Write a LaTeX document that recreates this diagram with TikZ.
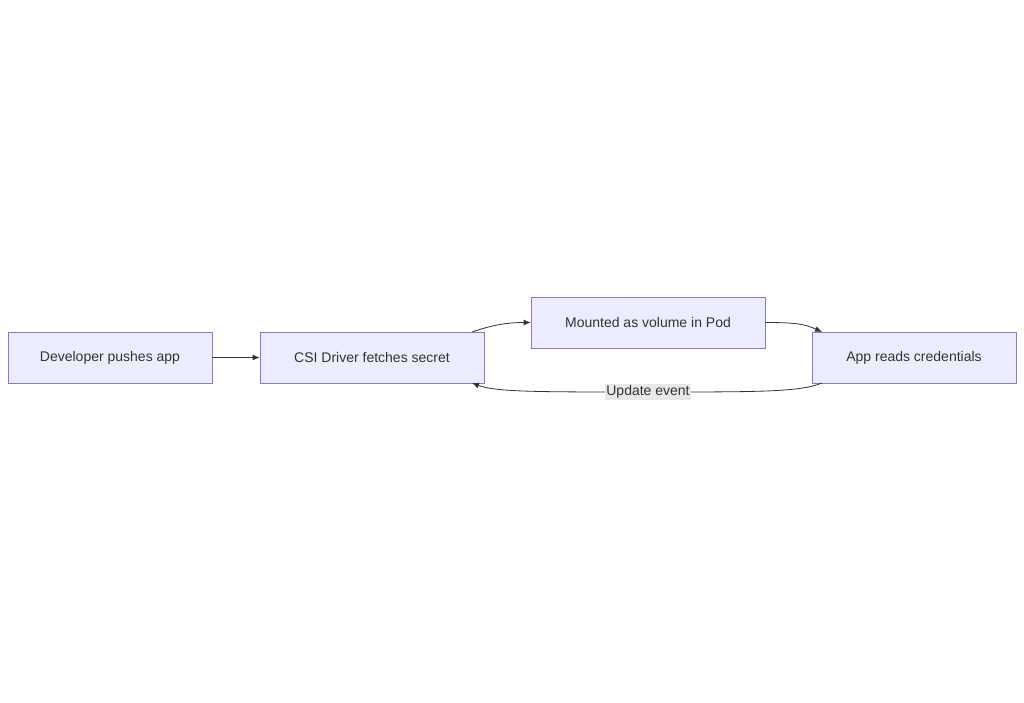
\documentclass[tikz,border=0pt]{standalone}
\usepackage{fontspec}
\setmainfont{Liberation Sans}
\usetikzlibrary{arrows.meta}
\definecolor{boxfill}{HTML}{ECECFF}
\definecolor{boxline}{HTML}{9370DB}
\definecolor{linkcol}{HTML}{333333}
\definecolor{lblfill}{HTML}{E8E8E8}
\begin{document}
\begin{tikzpicture}[x=1pt,y=-1pt]
\tikzstyle{stepbox}=[draw=boxline,fill=boxfill,line width=0.8pt,minimum height=51pt,inner sep=0pt,font=\fontsize{14}{16}\selectfont,text=linkcol]
\tikzstyle{link}=[draw=linkcol,line width=0.8pt,-{Latex[length=7pt,width=6pt]}]
\useasboundingbox (0,0) rectangle (1024,702);
\fill[white] (0,0) rectangle (1024,702);
\node[stepbox,minimum width=204pt] (dev) at (110,357.5) {Developer pushes app};
\node[stepbox,minimum width=224pt] (csi) at (372,357.5) {CSI Driver fetches secret};
\node[stepbox,minimum width=234pt] (mnt) at (648,322.5) {Mounted as volume in Pod};
\node[stepbox,minimum width=204pt] (app) at (914,357.5) {App reads credentials};
\coordinate (csitop) at (472,332);
\coordinate (csibot) at (472,383);
\coordinate (apptop) at (822,332);
\coordinate (appbot) at (822,383);
\draw[link] (dev) -- (csi);
\draw[link] (csitop) .. controls (495,324) and (510,322.5) .. (mnt.west);
\draw[link] (mnt.east) .. controls (795,322.5) and (805,324) .. (apptop);
\draw[link] (appbot) .. controls (800,392) and (760,392) .. (648,392) .. controls (536,392) and (496,392) .. (csibot);
\node[fill=lblfill,inner sep=1pt,font=\fontsize{14}{16}\selectfont,text=linkcol] (upd) at (648,392) {Update event};
\end{tikzpicture}
\end{document}
